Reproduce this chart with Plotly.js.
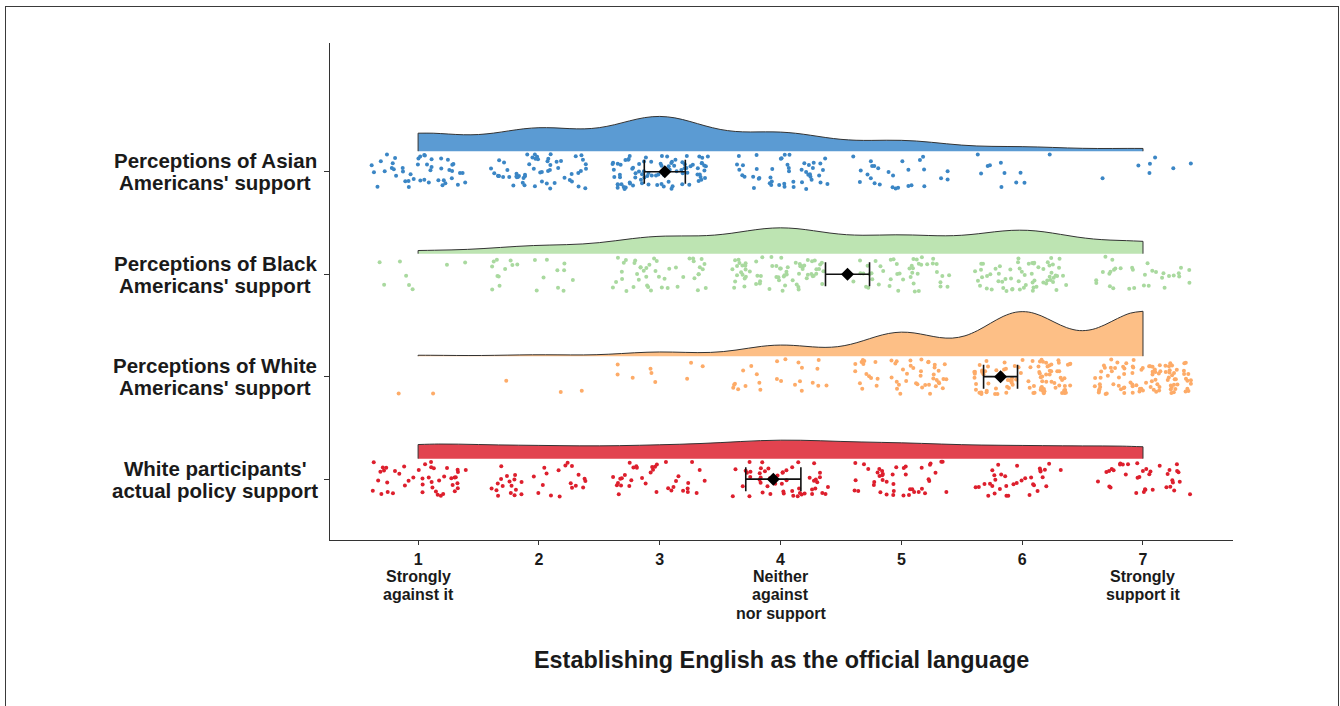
<!DOCTYPE html>
<html>
<head>
<meta charset="utf-8">
<script src="https://cdn.plot.ly/plotly-3.0.1.min.js"></script>
<style>
  html, body { margin: 0; padding: 0; background: #fff; }
  #chart { width: 1340px; height: 706px; }
  #frame { position: absolute; left: 5px; top: 6px; width: 1334px; height: 720px;
           border: 1.5px solid #3a3a3a; pointer-events: none; box-sizing: border-box; }
</style>
</head>
<body>
<div id="chart"></div>
<div id="frame"></div>
<script>
// Response scale (1 = strongly against, 7 = strongly support)
const responses = [1, 2, 3, 4, 5, 6, 7];
const responseTickLabels = ['1', '2', '3', '4', '5', '6', '7'];
// Verbal anchors printed under some scale points
const anchorPoints = [1, 4, 7];
const anchorLines = [
  ['Strongly', 'against it'],
  ['Neither', 'against', 'nor support'],
  ['Strongly', 'support it']
];

// Groups, top to bottom (each label printed on two lines)
const groupLabelLines = [
  ['Perceptions of Asian', "Americans' support"],
  ['Perceptions of Black', "Americans' support"],
  ['Perceptions of White', "Americans' support"],
  ["White participants'", 'actual policy support']
];
const axisTitle = 'Establishing English as the official language';

// Number of participants choosing each response (1..7)
const asianCounts       = [46, 58, 89, 47, 27, 11, 7];
const blackCounts       = [8, 21, 45, 69, 47, 63, 32];
const whiteCounts       = [2, 3, 9, 24, 52, 97, 98];
const participantCounts = [45, 35, 36, 54, 43, 35, 37];

const groupCounts = [asianCounts, blackCounts, whiteCounts, participantCounts];
const fillColors = ['#5b9bd3', '#bde4b2', '#fdbf86', '#e2434f'];
const dotColors  = ['#3b86c5', '#a9d99f', '#fdab68', '#dd1f2d'];
const rowPos = [4, 3, 2, 1];
const bwAdjust = 0.9;

function expand(counts) {
  const out = [];
  counts.forEach((c, i) => { for (let k = 0; k < c; k++) out.push(responses[i]); });
  return out;
}
function quantile(sorted, p) {
  const h = (sorted.length - 1) * p, lo = Math.floor(h), hi = Math.ceil(h);
  return sorted[lo] + (h - lo) * (sorted[hi] - sorted[lo]);
}
function stats(vals) {
  const n = vals.length;
  const mean = vals.reduce((a, b) => a + b, 0) / n;
  const sd = Math.sqrt(vals.reduce((a, v) => a + (v - mean) * (v - mean), 0) / (n - 1));
  const s = vals.slice().sort((a, b) => a - b);
  const iqr = quantile(s, 0.75) - quantile(s, 0.25);
  const bw = 0.9 * Math.min(sd, iqr / 1.34) * Math.pow(n, -0.2);
  return { n, mean, sd, ci: 1.96 * sd / Math.sqrt(n), bw };
}

// Deterministic hash jitter in [0, 1)
function jit(seed) {
  const v = Math.sin(seed * 12.9898 + 78.233) * 43758.5453;
  return v - Math.floor(v);
}

const traces = [];
const meanTraces = [];
groupCounts.forEach((counts, g) => {
  const vals = expand(counts);
  const st = stats(vals);
  const row = rowPos[g];

  // half violin (density cloud) sitting above the dots
  traces.push({
    type: 'violin', orientation: 'h', x: vals, y0: row + 0.2,
    side: 'positive', span: [1, 7], spanmode: 'manual', bandwidth: st.bw * bwAdjust,
    points: false, box: { visible: false }, meanline: { visible: false },
    line: { color: '#333333', width: 1 }, fillcolor: fillColors[g], opacity: 1,
    scalemode: 'count', scalegroup: 'all', hoverinfo: 'skip', showlegend: false
  });

  // jittered raw responses (rain)
  const jx = [], jy = [];
  let idx = 0;
  counts.forEach((c, i) => {
    for (let k = 0; k < c; k++) {
      const seed = 1000 * g + idx + 1;
      jx.push(responses[i] + (jit(seed) - 0.5) * 0.8);
      jy.push(row + (jit(seed + 0.5) - 0.5) * 0.34);
      idx++;
    }
  });
  traces.push({
    type: 'scatter', mode: 'markers', x: jx, y: jy,
    marker: { size: 4, color: dotColors[g] },
    hoverinfo: 'skip', showlegend: false
  });

  // mean with 95% confidence interval
  meanTraces.push({
    type: 'scatter', mode: 'markers', x: [st.mean], y: [row],
    marker: { symbol: 'diamond', size: 10, color: '#000' },
    error_x: { type: 'data', array: [st.ci], color: '#111', thickness: 1.6, width: 12 },
    hoverinfo: 'skip', showlegend: false
  });
});

const family = 'Liberation Sans, Arial, sans-serif';
const ink = '#1a1a1a';
const annotations = [];

// group labels left of the y axis, one annotation per line
groupLabelLines.forEach((lines, g) => {
  lines.forEach((txt, j) => {
    annotations.push({
      text: txt, xref: 'paper', x: 0, xanchor: 'center', xshift: -115,
      yref: 'y', y: rowPos[g], yanchor: 'middle', yshift: j === 0 ? 11 : -11,
      showarrow: false, font: { family, size: 20.5, color: ink, weight: 'bold' }
    });
  });
});

// verbal anchors under tick labels
anchorPoints.forEach((p, a) => {
  anchorLines[a].forEach((txt, j) => {
    annotations.push({
      text: txt, xref: 'x', x: p, xanchor: 'center',
      yref: 'paper', y: 0, yanchor: 'middle', yshift: -(36 + 18.6 * j),
      showarrow: false, font: { family, size: 16, color: ink, weight: 'bold' }
    });
  });
});

// x axis title
annotations.push({
  text: axisTitle, xref: 'paper', x: 0.5, xanchor: 'center',
  yref: 'paper', y: 0, yanchor: 'middle', yshift: -120,
  showarrow: false, font: { family, size: 23.4, color: ink, weight: 'bold' }
});

const layout = {
  width: 1340, height: 706,
  margin: { l: 330, r: 107, t: 43, b: 166 },
  paper_bgcolor: '#fff', plot_bgcolor: '#fff',
  showlegend: false, violinmode: 'overlay', violingap: 0.124, violingroupgap: 0,
  font: { family, color: ink },
  annotations,
  xaxis: {
    range: [0.271, 7.745], tickmode: 'array', tickvals: responses, ticktext: responseTickLabels,
    ticks: 'outside', ticklen: 4, tickcolor: '#333', showline: true, linecolor: '#333', linewidth: 1.3,
    showgrid: false, zeroline: false, automargin: false,
    tickfont: { family, size: 16, color: ink, weight: 'bold' }
  },
  yaxis: {
    range: [0.406, 5.256], tickmode: 'array', tickvals: rowPos, showticklabels: false,
    ticks: 'outside', ticklen: 5, tickcolor: '#333', showline: true, linecolor: '#333', linewidth: 1.3,
    showgrid: false, zeroline: false, automargin: false
  }
};

Plotly.newPlot('chart', traces.concat(meanTraces), layout, { staticPlot: true, displayModeBar: false });
</script>
</body>
</html>
